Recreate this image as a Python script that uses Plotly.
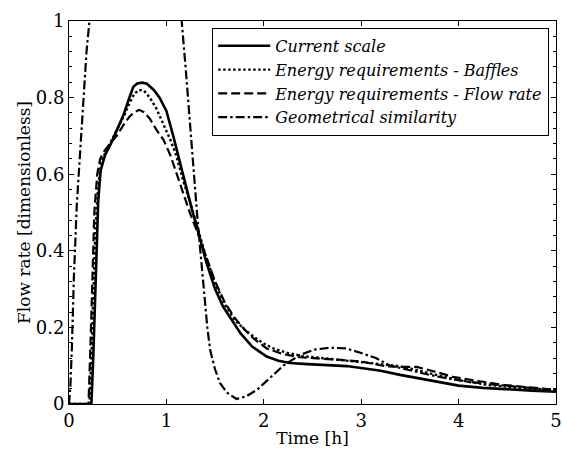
import plotly.graph_objects as go

# ---- data ----
names = ["Current scale", "Energy requirements - Baffles",
         "Energy requirements - Flow rate", "Geometrical similarity"]

t_current = [0, 0.23, 0.25, 0.277, 0.30, 0.325, 0.37, 0.44, 0.5, 0.56, 0.62, 0.66, 0.7, 0.75, 0.8,
             0.87, 0.93, 1.0, 1.07, 1.13, 1.19, 1.26, 1.33, 1.41, 1.5, 1.58, 1.65, 1.76, 1.88,
             2.03, 2.15, 2.27, 2.45, 2.65, 2.85, 3.0, 3.2, 3.4, 3.6, 3.8, 4.0, 4.25, 4.5, 4.75, 5.0]
v_current = [0, 0, 0.13, 0.35, 0.53, 0.61, 0.65, 0.685, 0.72, 0.755, 0.80, 0.828, 0.837, 0.839, 0.836,
             0.82, 0.80, 0.765, 0.70, 0.64, 0.577, 0.51, 0.446, 0.37, 0.30, 0.255, 0.228, 0.185, 0.15,
             0.124, 0.113, 0.107, 0.104, 0.102, 0.099, 0.094, 0.087, 0.076, 0.066, 0.057, 0.048,
             0.042, 0.038, 0.035, 0.032]

t_baffles = [0, 0.21, 0.23, 0.25, 0.27, 0.30, 0.33, 0.37, 0.44, 0.5, 0.56, 0.62, 0.67, 0.72, 0.77,
             0.83, 0.9, 0.97, 1.04, 1.1, 1.17, 1.24, 1.31, 1.4, 1.5, 1.6, 1.7, 1.8, 1.9, 2.0, 2.1,
             2.25, 2.4, 2.6, 2.8, 3.0, 3.2, 3.35, 3.5, 3.7, 3.9, 4.1, 4.3, 4.5, 4.75, 5.0]
v_baffles = [0, 0, 0.12, 0.3, 0.45, 0.57, 0.63, 0.655, 0.69, 0.72, 0.75, 0.785, 0.81, 0.82, 0.818,
             0.80, 0.77, 0.73, 0.69, 0.65, 0.585, 0.53, 0.47, 0.39, 0.315, 0.26, 0.22, 0.195, 0.175,
             0.158, 0.145, 0.133, 0.125, 0.12, 0.115, 0.11, 0.104, 0.1, 0.093, 0.08, 0.068, 0.058,
             0.05, 0.045, 0.04, 0.037]

t_flow = [0, 0.2, 0.22, 0.24, 0.26, 0.29, 0.32, 0.36, 0.42, 0.49, 0.55, 0.62, 0.67, 0.72, 0.77,
          0.83, 0.9, 0.97, 1.04, 1.1, 1.17, 1.24, 1.31, 1.4, 1.5, 1.6, 1.7, 1.8, 1.9, 2.03, 2.2,
          2.37, 2.58, 2.8, 3.02, 3.15, 3.26, 3.4, 3.57, 3.75, 3.94, 4.2, 4.46, 4.7, 5.0]
v_flow = [0, 0, 0.15, 0.35, 0.5, 0.6, 0.64, 0.66, 0.68, 0.70, 0.725, 0.75, 0.762, 0.768, 0.762,
          0.745, 0.715, 0.69, 0.65, 0.605, 0.55, 0.5, 0.454, 0.39, 0.32, 0.265, 0.225, 0.195, 0.17,
          0.145, 0.13, 0.122, 0.119, 0.115, 0.11, 0.104, 0.098, 0.097, 0.097, 0.085, 0.071, 0.06,
          0.05, 0.044, 0.037]

t_geom = [0, 0.015, 0.03, 0.05, 0.08, 0.12, 0.15, 0.18, 0.21, 0.3, 0.45, 0.6, 0.75, 0.9, 1.05,
          1.157, 1.2, 1.24, 1.28, 1.32, 1.36, 1.39, 1.42, 1.45, 1.5, 1.55, 1.62, 1.72, 1.82, 1.93,
          2.05, 2.2, 2.37, 2.52, 2.68, 2.85, 3.0, 3.15, 3.3, 3.5, 3.7, 3.9, 4.1, 4.3, 4.6, 5.0]
v_geom = [0, 0.05, 0.15, 0.33, 0.52, 0.69, 0.8, 0.92, 1.0, 1.2, 1.4, 1.5, 1.5, 1.4, 1.2,
          1.0, 0.87, 0.75, 0.61, 0.48, 0.36, 0.27, 0.2, 0.14, 0.09, 0.055, 0.03, 0.013, 0.02, 0.037,
          0.065, 0.10, 0.128, 0.142, 0.147, 0.145, 0.133, 0.12, 0.10, 0.088, 0.076, 0.066, 0.058,
          0.052, 0.045, 0.036]

x_ticks = [0, 1, 2, 3, 4, 5]
y_ticks = [0, 0.2, 0.4, 0.6, 0.8, 1]
y_ticklabels = ["0", "0.2", "0.4", "0.6", "0.8", "1"]

series = [
    (t_current, v_current, "solid", 2.6),
    (t_baffles, v_baffles, "2.5px,2.5px", 2.4),
    (t_flow, v_flow, "9px,4px", 2.2),
    (t_geom, v_geom, "9px,3px,2.5px,3px", 2.2),
]

fig = go.Figure()
for name, (tx, vy, dash, w) in zip(names, series):
    fig.add_trace(go.Scatter(x=tx, y=vy, mode="lines", name=name,
                             line=dict(color="black", width=w, dash=dash)))

FONT = "DejaVu Serif"
axis_common = dict(showline=True, linecolor="black", linewidth=1, mirror="ticks",
                   ticks="inside", ticklen=5, tickcolor="black", showgrid=False,
                   zeroline=False, automargin=False, ticklabeloverflow="allow",
                   tickfont=dict(family=FONT, size=18, color="black"))

fig.update_xaxes(range=[0, 5], tickvals=x_ticks, ticktext=[str(v) for v in x_ticks],
                 title=dict(text="Time [h]", font=dict(family=FONT, size=17, color="black"),
                            standoff=2),
                 **axis_common)
fig.update_yaxes(range=[0, 1], tickvals=y_ticks, ticktext=y_ticklabels,
                 title=dict(text="Flow rate [dimensionless]",
                            font=dict(family=FONT, size=17, color="black"), standoff=0),
                 minor=dict(dtick=0.04, ticks="inside", ticklen=3, tickcolor="black"),
                 **axis_common)

fig.update_layout(
    width=562, height=453,
    margin=dict(l=69, r=6, t=21, b=49),
    paper_bgcolor="white", plot_bgcolor="white",
    showlegend=True,
    legend=dict(x=0.986, y=0.982, xanchor="right", yanchor="top",
                bgcolor="white", bordercolor="black", borderwidth=1,
                font=dict(family=FONT, size=16, color="black", style="italic"),
                itemwidth=52, tracegroupgap=0),
)

fig.write_html("out.html", config={"displayModeBar": False},
               post_script="document.body.style.margin='0';document.body.style.padding='0';")
